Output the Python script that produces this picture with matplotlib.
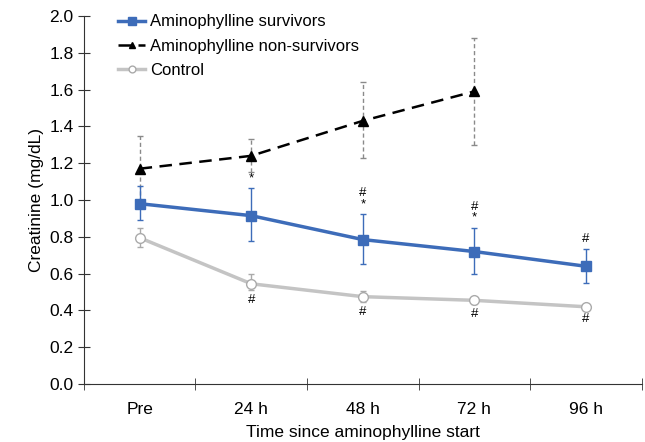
import matplotlib.pyplot as plt
import numpy as np

plt.rcParams['font.family'] = ['Liberation Sans', 'DejaVu Sans']

times = ['Pre', '24 h', '48 h', '72 h', '96 h']

surv = [0.98, 0.915, 0.785, 0.72, 0.64]
surv_lo = [0.89, 0.78, 0.655, 0.60, 0.55]
surv_hi = [1.075, 1.065, 0.925, 0.85, 0.735]

nonsurv = [1.17, 1.24, 1.43, 1.59]
nonsurv_lo = [0.99, 1.15, 1.23, 1.30]
nonsurv_hi = [1.35, 1.33, 1.64, 1.88]

ctrl = [0.795, 0.545, 0.475, 0.455, 0.42]
ctrl_lo = [0.745, 0.51, 0.445, 0.435, 0.405]
ctrl_hi = [0.85, 0.60, 0.505, 0.475, 0.435]

# significance marks above survivors / below control
surv_marks = ['', '*', '#\n*', '#\n*', '#']
ctrl_marks = ['', '#', '#', '#', '#']

blue = '#3d6cb9'
grey = '#c4c4c4'

fig = plt.figure(figsize=(6.45, 4.42), dpi=100)
ax = fig.add_axes([0.130, 0.131, 0.865, 0.833])

x = np.arange(len(times))
xn = x[:len(nonsurv)]

def yerr(v, lo, hi):
    v = np.array(v)
    return [v - np.array(lo), np.array(hi) - v]

# error bars
e = ax.errorbar(xn, nonsurv, yerr=yerr(nonsurv, nonsurv_lo, nonsurv_hi), fmt='none',
                ecolor='#8a8a8a', elinewidth=1, capsize=2.5, capthick=1, zorder=2)
e[2][0].set_linestyle((0, (3, 2)))
ax.errorbar(x, ctrl, yerr=yerr(ctrl, ctrl_lo, ctrl_hi), fmt='none',
            ecolor='#aaaaaa', elinewidth=1, capsize=2, zorder=2)
ax.errorbar(x, surv, yerr=yerr(surv, surv_lo, surv_hi), fmt='none',
            ecolor=blue, elinewidth=1, capsize=2.5, zorder=3)

ax.plot(x, ctrl, color=grey, lw=2.5, marker='o', ms=7, mfc='white', mec='#aaaaaa',
        mew=1, label='Control', zorder=4)
ax.plot(xn, nonsurv, color='black', lw=1.8, ls=(0, (5, 3)), marker='^', ms=7,
        label='Aminophylline non-survivors', zorder=5)
ax.plot(x, surv, color=blue, lw=2.5, marker='s', ms=7.5, label='Aminophylline survivors',
        zorder=6)

for i in range(len(times)):
    if surv_marks[i]:
        ax.text(x[i], surv_hi[i] + 0.02, surv_marks[i], ha='center', va='bottom',
                fontsize=9.5, linespacing=0.9)
    if ctrl_marks[i]:
        ax.text(x[i], ctrl_lo[i] - 0.02, ctrl_marks[i], ha='center', va='top', fontsize=9.5)

ax.set_xlim(-0.5, len(times) - 0.5)
ax.set_ylim(0, 2.0)
ax.set_yticks(np.arange(0, 2.01, 0.2))
ax.set_yticklabels([f'{v:.1f}' for v in np.arange(0, 2.01, 0.2)])
ax.set_xticks(x)
ax.set_xticklabels(times)
ax.set_xticks(np.arange(-0.5, len(times)), minor=True)
ax.tick_params(axis='x', which='major', length=0, labelsize=12.5, pad=13)
ax.tick_params(axis='x', which='minor', direction='inout', length=8, color='#333333')
ax.tick_params(axis='y', direction='inout', length=8, labelsize=12.5, color='#333333')

for s in ['top', 'right']:
    ax.spines[s].set_visible(False)
for s in ['left', 'bottom']:
    ax.spines[s].set_color('#333333')

ax.set_ylabel('Creatinine (mg/dL)', fontsize=12.5)
ax.set_xlabel('Time since aminophylline start', fontsize=12.5, labelpad=6)

h, l = ax.get_legend_handles_labels()
ax.legend(h[::-1], l[::-1], loc='upper left', bbox_to_anchor=(0.035, 1.045), frameon=False,
          fontsize=12, handlelength=1.6, handletextpad=0.3, labelspacing=0.55,
          markerscale=0.7)

fig.savefig('out.png', dpi=100)
